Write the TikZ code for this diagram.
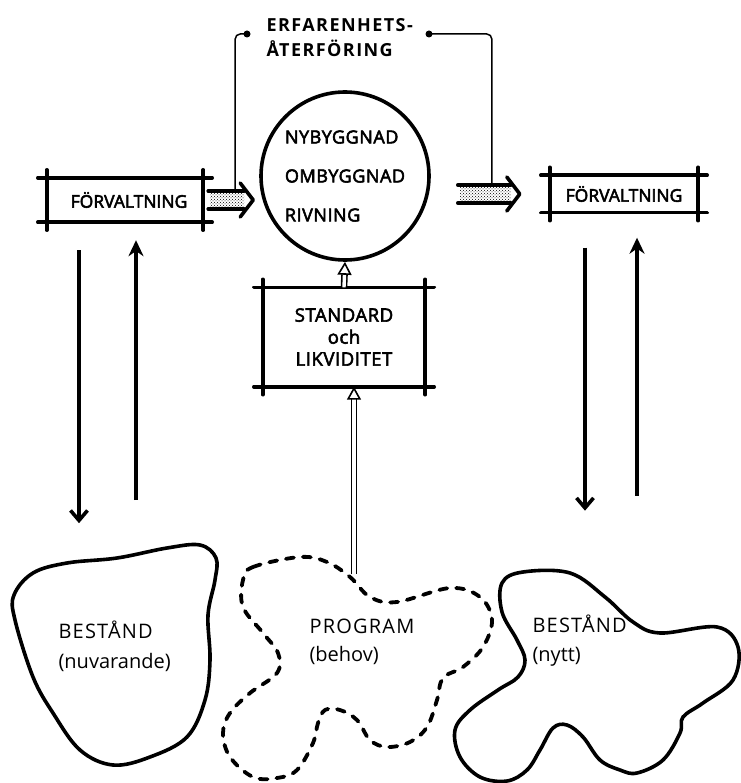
\documentclass[tikz,border=0pt]{standalone}
\usepackage{fontspec}
\setmainfont{Open Sans}
\newfontfamily\handcaps[FakeBold=3]{Open Sans}
\newfontfamily\titlecaps[LetterSpace=8]{Open Sans}
\newfontfamily\spacedcaps[FakeBold=3, LetterSpace=3]{Open Sans}
\newfontfamily\widecaps[LetterSpace=6]{Open Sans}
\usetikzlibrary{arrows.meta,patterns}

\tikzset{
  boxline/.style={line width=3.6pt, line cap=round},
  lbl/.style={font=\handcaps\fontsize{17.5}{18}\selectfont},
  soft/.style={font=\fontsize{20}{30}\selectfont, align=left},
  framed/.style={lbl, align=center, inner sep=0pt},
  chevron/.style={line width=3.6pt, line cap=round, line join=round},
  feedline/.style={line width=1.5pt, rounded corners=5pt},
  hollow/.style={double, double distance=3.4pt, line width=1.6pt,
    -{Triangle[open, length=13pt, width=14pt]}},
  downarr/.style={line width=3.6pt, -{Straight Barb[length=10pt, width=17pt]}},
  uparr/.style={line width=3.6pt, -{Stealth[length=16pt, width=15pt]}},
  blob/.style={line width=3.6pt},
  dashblob/.style={line width=3.8pt, line cap=round, dash pattern=on 8pt off 9pt}
}

% frame with corner lines running past the box
\newcommand\crossbox[1]{%
  \draw[boxline] ([xshift=-9pt]#1.north west) -- ([xshift=9pt]#1.north east);
  \draw[boxline] ([xshift=-9pt]#1.south west) -- ([xshift=9pt]#1.south east);
  \draw[boxline] ([yshift=8pt]#1.north west) -- ([yshift=-8pt]#1.south west);
  \draw[boxline] ([yshift=8pt]#1.north east) -- ([yshift=-8pt]#1.south east);}

% stippled broad arrow from #1 to tip #2
\newcommand\fatarrow[2]{%
  \fill[pattern=crosshatch dots] ([shift={(2,-9)}]#1) rectangle ([shift={(-9,9)}]#2);
  \draw[boxline] ([shift={(0,-9)}]#1) -- ([shift={(-9,-9)}]#2);
  \draw[boxline] ([shift={(0,9)}]#1) -- ([shift={(-9,9)}]#2);
  \draw[chevron] ([shift={(-13,-17)}]#2) -- (#2) -- ([shift={(-13,17)}]#2);}

\begin{document}
\begin{tikzpicture}[x=1pt, y=-1pt]
\useasboundingbox (0,0) rectangle (740,783);

% title and feedback
\node[align=left, anchor=west, font=\titlecaps\bfseries\fontsize{18}{25}\selectfont] (title) at (263,38) {ERFARENHETS-\\ÅTERFÖRING};

% boxes and circle
\node[framed, minimum width=156pt, minimum height=44pt] (lbox) at (125,200) {\hspace{8pt}FÖRVALTNING};
\node[framed, minimum width=148pt, minimum height=37pt] (rbox) at (624,194) {FÖRVALTNING};
\node[framed, minimum width=162pt, minimum height=99pt, font=\spacedcaps\fontsize{18.5}{22}\selectfont] (std) at (344,337) {STANDARD\\och\\LIKVIDITET};
\node[circle, draw, line width=3.6pt, minimum size=168pt, inner sep=0pt, align=left,
  font=\spacedcaps\fontsize{18}{39}\selectfont] (circ) at (345,176) {NYBYGGNAD\\OMBYGGNAD\\RIVNING};
\crossbox{lbox}
\crossbox{rbox}
\crossbox{std}

% broad arrows
\coordinate (fa1) at ([xshift=5pt]lbox.east);
\coordinate (fa2) at ([xshift=-6pt]lbox.east -| circ.west);
\coordinate (fa3) at ([xshift=27pt]circ.east |- rbox.west);
\coordinate (fa4) at ([xshift=-30pt]rbox.west);
\fatarrow{fa1}{fa2}
\fatarrow{fa3}{fa4}

\coordinate (d1) at (247,34);
\coordinate (d2) at (429,34);
\draw[feedline] (d1) -| ([shift={(27,-9)}]fa1);
\draw[feedline] (d2) -| ([shift={(34,-9)}]fa3);
\fill (d1) circle (3.5pt) (d2) circle (3.5pt);

% hollow arrows
\coordinate (progtop) at (354,574);
\draw[hollow] (std.north) -- (circ.south);
\draw[hollow] (progtop) -- (progtop |- std.south);

% up and down arrows
\draw[downarr] ([shift={(-46,28)}]lbox.south) -- ++(0,273);
\draw[uparr] ([shift={(11,278)}]lbox.south) -- ([shift={(11,18)}]lbox.south);
\draw[downarr] ([shift={(-39,35)}]rbox.south) -- ++(0,263);
\draw[uparr] ([shift={(13,283)}]rbox.south) -- ([shift={(13,25)}]rbox.south);

% stock and programme outlines
\draw[blob] plot[smooth cycle, tension=0.6] coordinates {(33,573) (67,563) (117,558) (167,548) (200,545) (216,558) (215,580) (208,615) (210,660) (205,700) (187,737) (150,757) (113,765) (80,750) (53,713) (33,677) (15,620) (14,595)};
\draw[dashblob] plot[smooth cycle, tension=0.6] coordinates {(243,580) (253,567) (300,557) (327,562) (350,577) (370,597) (397,602) (450,588) (480,597) (492,620) (483,647) (463,667) (443,678) (437,700) (427,727) (410,742) (387,747) (370,740) (357,720) (340,710) (325,710) (318,723) (313,743) (297,770) (277,778) (253,777) (230,757) (223,733) (230,713) (250,693) (277,673) (278,653) (263,633) (243,607)};
\draw[blob] plot[smooth cycle, tension=0.6] coordinates {(502,583) (523,572) (570,573) (605,597) (633,622) (660,633) (717,627) (738,647) (733,680) (703,703) (683,717) (680,733) (663,760) (637,773) (620,770) (600,760) (583,737) (567,725) (553,728) (540,750) (527,770) (507,781) (480,777) (460,757) (455,730) (470,710) (498,690) (518,677) (525,660) (517,640) (502,612)};

\node[soft, anchor=west] (oldst) at (55,646) {{\widecaps BESTÅND}\\(nuvarande)};
\node[soft, anchor=west, font=\fontsize{20}{28}\selectfont] (prog) at (306,642) {{\widecaps PROGRAM}\\(behov)};
\node[soft, anchor=west, font=\fontsize{20}{29}\selectfont] (newst) at (529,641) {{\widecaps BESTÅND}\\(nytt)};
\end{tikzpicture}
\end{document}
